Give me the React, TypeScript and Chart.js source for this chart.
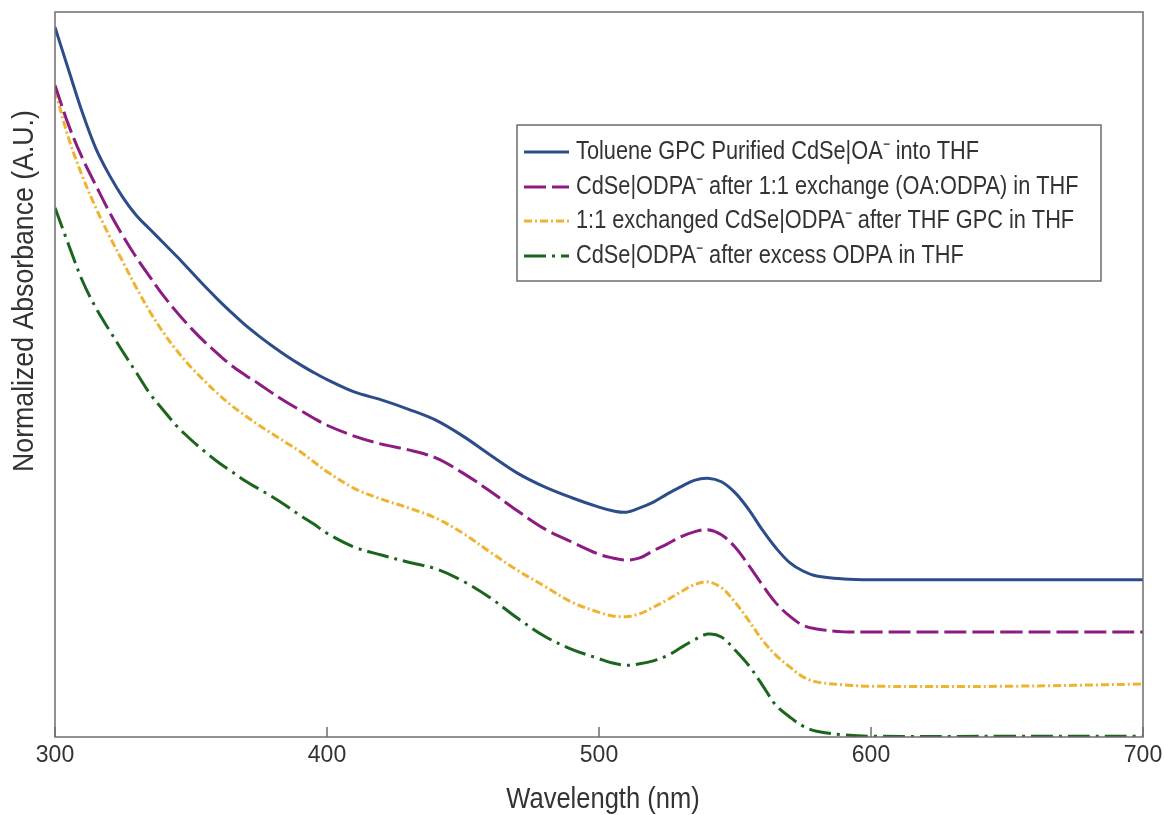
import React, { useEffect, useRef } from 'react';
import { Chart, registerables } from 'chart.js';

Chart.register(...registerables);

// ---- data (normalized absorbance, arbitrary units) ----
const wavelengths = [300, 305, 310, 315, 320, 325, 330, 335, 340, 345, 350, 355, 360, 365, 370, 375, 380, 385, 390, 395, 400,
  410, 420, 430, 440, 450, 460, 470, 480, 490, 500,
  505, 510, 515, 520, 525, 530, 535, 540, 545, 550, 555, 560, 565, 570, 575, 580,
  590, 600, 650, 700];

const toluenePurified = [0.979, 0.920, 0.862, 0.812, 0.775, 0.744, 0.719, 0.700, 0.681, 0.662, 0.642, 0.622, 0.603, 0.585, 0.568, 0.553, 0.539, 0.526, 0.514, 0.503, 0.493,
  0.476, 0.465, 0.452, 0.437, 0.415, 0.389, 0.364, 0.345, 0.330, 0.317,
  0.312, 0.310, 0.316, 0.324, 0.335, 0.345, 0.354, 0.357, 0.352, 0.337, 0.314, 0.286, 0.261, 0.241, 0.229, 0.222,
  0.218, 0.217, 0.217, 0.217];

const exchange11 = [0.899, 0.844, 0.799, 0.761, 0.724, 0.691, 0.661, 0.634, 0.608, 0.585, 0.564, 0.545, 0.528, 0.512, 0.499, 0.487, 0.474, 0.462, 0.451, 0.440, 0.430,
  0.415, 0.404, 0.396, 0.385, 0.364, 0.339, 0.312, 0.287, 0.269, 0.252,
  0.247, 0.244, 0.247, 0.257, 0.266, 0.276, 0.283, 0.286, 0.279, 0.262, 0.237, 0.210, 0.185, 0.167, 0.154, 0.149,
  0.145, 0.145, 0.145, 0.145];

const exchangedGpc = [0.892, 0.826, 0.774, 0.730, 0.691, 0.655, 0.619, 0.586, 0.557, 0.532, 0.510, 0.491, 0.473, 0.457, 0.443, 0.430, 0.418, 0.406, 0.394, 0.380, 0.366,
  0.343, 0.328, 0.316, 0.302, 0.281, 0.255, 0.230, 0.208, 0.186, 0.172,
  0.167, 0.166, 0.170, 0.179, 0.189, 0.200, 0.210, 0.214, 0.206, 0.186, 0.161, 0.134, 0.113, 0.097, 0.083, 0.076,
  0.072, 0.070, 0.070, 0.073];

const excessOdpa = [0.730, 0.679, 0.630, 0.592, 0.561, 0.531, 0.502, 0.473, 0.450, 0.428, 0.410, 0.394, 0.379, 0.366, 0.353, 0.342, 0.331, 0.319, 0.306, 0.294, 0.281,
  0.262, 0.251, 0.241, 0.232, 0.215, 0.192, 0.164, 0.139, 0.121, 0.108,
  0.102, 0.099, 0.101, 0.105, 0.112, 0.123, 0.134, 0.142, 0.138, 0.120, 0.099, 0.072, 0.044, 0.028, 0.015, 0.008,
  0.003, 0.001, 0.001, 0.001];

const seriesLabels = [
  'Toluene GPC Purified CdSe|OA\u207B into THF',
  'CdSe|ODPA\u207B after 1:1 exchange (OA:ODPA) in THF',
  '1:1 exchanged CdSe|ODPA\u207B after THF GPC in THF',
  'CdSe|ODPA\u207B after excess ODPA in THF',
];
const xTicks = [300, 400, 500, 600, 700];
const xTitle = 'Wavelength (nm)';
const yTitle = 'Normalized Absorbance (A.U.)';

const FONT = "'Liberation Sans', Arial, sans-serif";
const TEXT = '#333333';
const FRAME = '#6e6e6e';

const seriesStyles = [
  { color: '#2c4c8a', dash: [] as number[] },
  { color: '#8c1b82', dash: [22, 6] },
  { color: '#f0b330', dash: [8, 3, 2, 3] },
  { color: '#1b661c', dash: [22, 6, 3, 6] },
];

// draws condensed text (horizontal squeeze) to mimic the narrow face of the original
function narrowText(ctx: any, text: string, x: number, y: number, size: number, squeeze: number, align: string) {
  ctx.save();
  ctx.translate(x, y);
  ctx.scale(squeeze, 1);
  ctx.font = `${size}px ${FONT}`;
  ctx.fillStyle = TEXT;
  ctx.textAlign = align;
  ctx.textBaseline = 'middle';
  ctx.fillText(text, 0, 0);
  ctx.restore();
}

const decorPlugin = {
  id: 'decor',
  afterDraw(chart: any) {
    const { ctx, chartArea: a, scales } = chart;
    const xs = scales.x;
    ctx.save();
    ctx.strokeStyle = FRAME;
    ctx.lineWidth = 1.5;
    xs.ticks.forEach((t: any) => {
      const px = xs.getPixelForValue(t.value);
      ctx.beginPath();
      ctx.moveTo(px, a.bottom);
      ctx.lineTo(px, a.bottom - 10);
      ctx.stroke();
    });
    ctx.strokeRect(a.left, a.top, a.right - a.left, a.bottom - a.top);
    ctx.restore();

    // x title
    narrowText(ctx, xTitle, (a.left + a.right) / 2 + 4, 800, 29, 0.88, 'center');

    // y title
    ctx.save();
    ctx.translate(25, 291);
    ctx.rotate(-Math.PI / 2);
    narrowText(ctx, yTitle, 0, 0, 29, 0.92, 'center');
    ctx.restore();

    // legend
    ctx.save();
    const bx = 517, by = 125, bw = 584, bh = 156;
    ctx.fillStyle = '#ffffff';
    ctx.fillRect(bx, by, bw, bh);
    ctx.strokeStyle = FRAME;
    ctx.lineWidth = 1.5;
    ctx.strokeRect(bx, by, bw, bh);
    const rows = [152, 187, 221, 256];
    chart.data.datasets.forEach((ds: any, i: number) => {
      const y = rows[i];
      ctx.strokeStyle = ds.borderColor;
      ctx.lineWidth = 3;
      ctx.setLineDash(ds.borderDash || []);
      ctx.beginPath();
      ctx.moveTo(524, y);
      ctx.lineTo(569, y);
      ctx.stroke();
      ctx.setLineDash([]);
      narrowText(ctx, ds.label, 576, y, 25, 0.87, 'left');
    });
    ctx.restore();
  },
};

export default function App() {
  const ref = useRef<HTMLCanvasElement | null>(null);

  useEffect(() => {
    if (!ref.current) return;
    const sets = [toluenePurified, exchange11, exchangedGpc, excessOdpa];
    const chart = new Chart(ref.current, {
      type: 'line',
      data: {
        datasets: sets.map((vals, i) => ({
          label: seriesLabels[i],
          data: wavelengths.map((w, k) => ({ x: w, y: vals[k] })),
          borderColor: seriesStyles[i].color,
          borderDash: seriesStyles[i].dash,
          borderWidth: 3,
          pointRadius: 0,
          fill: false,
          tension: 0.35,
        })),
      },
      options: {
        responsive: false,
        animation: false,
        layout: { padding: { left: 55, right: 21, top: 12, bottom: 0 } },
        plugins: { legend: { display: false }, tooltip: { enabled: false } },
        scales: {
          x: {
            type: 'linear',
            min: 300,
            max: 700,
            afterBuildTicks: (s: any) => {
              s.ticks = xTicks.map((v) => ({ value: v }));
            },
            ticks: { font: { family: FONT, size: 23 }, color: TEXT, padding: 5, maxRotation: 0 },
            grid: { display: false, drawTicks: false },
            border: { display: false },
            title: { display: false },
            afterFit: (s: any) => {
              s.height = 78;
              s.paddingLeft = 0;
              s.paddingRight = 0;
            },
          },
          y: { display: false, min: 0, max: 1 },
        },
      },
      plugins: [decorPlugin],
    });
    return () => chart.destroy();
  }, []);

  return (
    <div style={{ position: 'absolute', left: 0, top: 0, width: 1164, height: 815, background: '#fff' }}>
      <canvas ref={ref} width={1164} height={815} style={{ display: 'block' }} />
    </div>
  );
}
